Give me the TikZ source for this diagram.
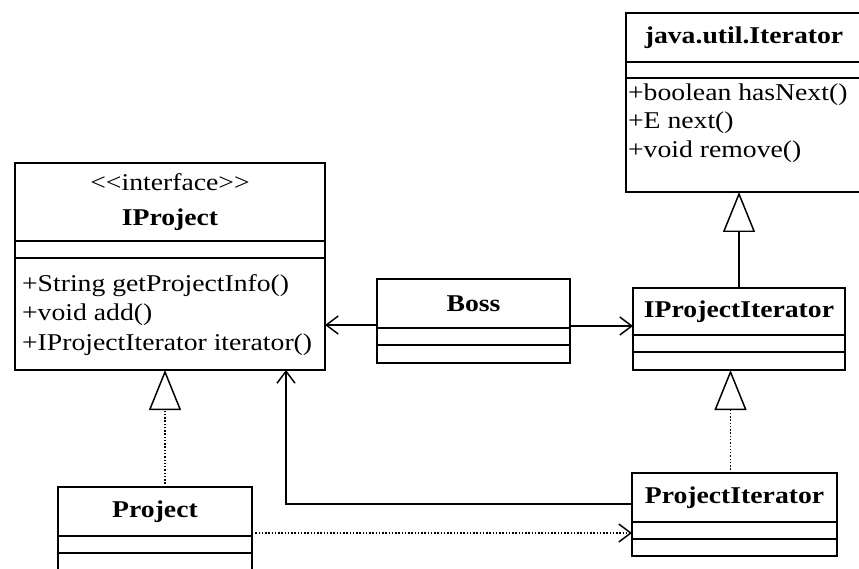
\documentclass[tikz,border=0pt]{standalone}
\usepackage{fontspec}
\setmainfont[FakeStretch=1.15]{Liberation Serif}
\usetikzlibrary{arrows.meta, positioning}

\begin{document}
\begin{tikzpicture}[
  every node/.style={font=\fontsize{13.7}{16}\selectfont},
  cname/.style={rectangle, draw, line width=0.85pt, outer sep=0pt,
                inner sep=1pt, align=center, anchor=north west},
  cpart/.style={rectangle, draw, line width=0.85pt, outer sep=0pt,
                inner sep=0pt, anchor=north},
  ops/.style={inner sep=1pt, align=left, anchor=north west},
  assoc/.style={-{Straight Barb[length=0.24cm, width=0.36cm]}, line width=0.85pt},
  gen/.style={-{Triangle[open, length=0.8cm, width=0.64cm, fill=white]}, line width=0.85pt},
  realize/.style={gen, densely dotted}
]
\clip (0,0) rectangle (17.18,-11.38);

%% ── java.util.Iterator ──────────────────────────────────────────────
\node[cname, minimum width=4.72cm, minimum height=0.98cm] (iter) at (12.52,-0.26) {\textbf{java.util.Iterator}};
\node[cpart, minimum width=4.72cm, minimum height=0.32cm] (iter-a) at (iter.south) {};
\node[cpart, minimum width=4.72cm, minimum height=2.28cm] (iter-o) at (iter-a.south) {};
\node[ops] (iter-t) at ([yshift=-0.08cm]iter-o.north west) {+boolean hasNext()\\+E next()\\+void remove()};

%% ── IProject ────────────────────────────────────────────────────────
\node[cname, minimum width=6.2cm, minimum height=1.56cm] (iproj) at (0.30,-3.26)
  {<\kern0pt<interface>\kern0pt>\\[4pt]\textbf{IProject}};
\node[cpart, minimum width=6.2cm, minimum height=0.34cm] (iproj-a) at (iproj.south) {};
\node[cpart, minimum width=6.2cm, minimum height=2.24cm] (iproj-o) at (iproj-a.south) {};
\node[ops] (iproj-t) at ([xshift=0.1cm, yshift=-0.28cm]iproj-o.north west)
  {+String getProjectInfo()\\[1pt]+void add()\\[1pt]+IProjectIterator iterator()};

%% ── Boss ────────────────────────────────────────────────────────────
\node[cname, minimum width=3.86cm, minimum height=0.98cm] (boss) at (7.54,-5.58) {\textbf{Boss}};
\node[cpart, minimum width=3.86cm, minimum height=0.34cm] (boss-a) at (boss.south) {};
\node[cpart, minimum width=3.86cm, minimum height=0.36cm] (boss-o) at (boss-a.south) {};

%% ── IProjectIterator ────────────────────────────────────────────────
\node[cname, minimum width=4.24cm, minimum height=0.94cm] (ipiter) at (12.66,-5.76) {\textbf{IProjectIterator}};
\node[cpart, minimum width=4.24cm, minimum height=0.34cm] (ipiter-a) at (ipiter.south) {};
\node[cpart, minimum width=4.24cm, minimum height=0.36cm] (ipiter-o) at (ipiter-a.south) {};

%% ── Project ─────────────────────────────────────────────────────────
\node[cname, minimum width=3.88cm, minimum height=0.98cm] (proj) at (1.16,-9.74) {\textbf{Project}};
\node[cpart, minimum width=3.88cm, minimum height=0.34cm] (proj-a) at (proj.south) {};
\node[cpart, minimum width=3.88cm, minimum height=0.6cm] (proj-o) at (proj-a.south) {};

%% ── ProjectIterator ─────────────────────────────────────────────────
\node[cname, minimum width=4.10cm, minimum height=0.98cm] (piter) at (12.64,-9.46) {\textbf{ProjectIterator}};
\node[cpart, minimum width=4.10cm, minimum height=0.34cm] (piter-a) at (piter.south) {};
\node[cpart, minimum width=4.10cm, minimum height=0.34cm] (piter-o) at (piter-a.south) {};

%% ── associations ────────────────────────────────────────────────────
\draw[assoc] ([yshift=0.06cm]boss.south west) -- ([yshift=0.06cm]boss.south west -| iproj-o.east);
\draw[assoc] ([yshift=0.04cm]boss.south east) -- ([yshift=0.04cm]boss.south east -| ipiter.west);
\draw[assoc] ([yshift=-0.13cm]piter.west) -| ([xshift=2.32cm]iproj-o.south);
\draw[assoc, densely dotted] ([yshift=0.06cm]proj.south east) -- ([yshift=0.06cm]proj.south east -| piter.west);

%% ── generalization / realization ────────────────────────────────────
\draw[gen] (ipiter.north) -- (ipiter.north |- iter-o.south);
\draw[realize] ([xshift=-0.08cm]piter.north) -- ([xshift=-0.08cm]piter.north |- ipiter-o.south);
\draw[realize] ([xshift=0.2cm]proj.north) -- ([xshift=0.2cm]proj.north |- iproj-o.south);

\end{tikzpicture}
\end{document}
